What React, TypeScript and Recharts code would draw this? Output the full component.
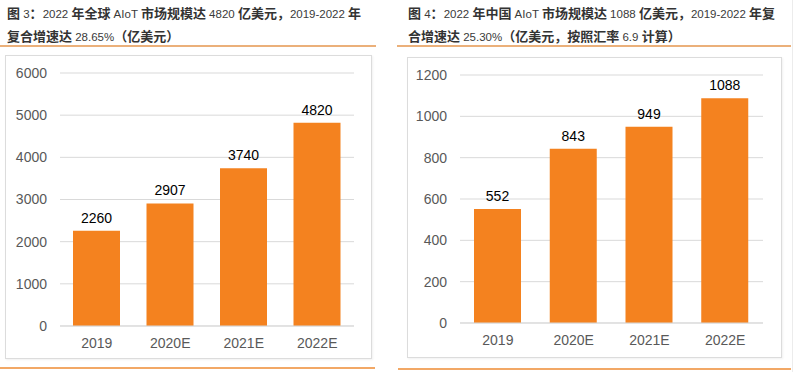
import React from 'react';
import { BarChart, Bar, XAxis, YAxis, CartesianGrid, LabelList } from 'recharts';

const categories = ['2019', '2020E', '2021E', '2022E'];
const globalValues = [2260, 2907, 3740, 4820];
const chinaValues = [552, 843, 949, 1088];
const globalTicks = [0, 1000, 2000, 3000, 4000, 5000, 6000];
const chinaTicks = [0, 200, 400, 600, 800, 1000, 1200];

const globalData = categories.map((c, i) => ({ name: c, value: globalValues[i] }));
const chinaData = categories.map((c, i) => ({ name: c, value: chinaValues[i] }));

const ORANGE = '#F4821F';
const GRID = '#d9d9d9';
const FONT = '"Liberation Sans", Arial, sans-serif';

const titleStyle: React.CSSProperties = {
  position: 'absolute',
  fontFamily: '"Liberation Sans", "Noto Sans CJK SC", sans-serif',
  fontSize: 11.5,
  lineHeight: '21px',
  color: '#3a3a3a',
  whiteSpace: 'nowrap',
};

const B = ({ children }: { children: React.ReactNode }) => (
  <span style={{ fontFamily: '"Noto Sans CJK SC", sans-serif', fontWeight: 700, fontSize: 13, color: '#333' }}>{children}</span>
);

function Panel({
  data, ticks, max, left, top, width, height, yWidth, right, bottom,
}: {
  data: { name: string; value: number }[]; ticks: number[]; max: number;
  left: number; top: number; width: number; height: number; yWidth: number; right: number; bottom: number;
}) {
  return (
    <>
      <div style={{ position: 'absolute', left, top, width, height, boxSizing: 'border-box', border: '1px solid #dcdcdc', boxShadow: '1px 1px 2px rgba(0,0,0,0.06)' }} />
      <div style={{ position: 'absolute', left, top, width, height }}>
        <BarChart width={width} height={height} data={data} margin={{ top: 18, right, bottom, left: 0 }}>
          <CartesianGrid vertical={false} stroke={GRID} />
          <XAxis dataKey="name" height={30} tickSize={0} tickMargin={12} axisLine={{ stroke: GRID }} tickLine={false}
            tick={{ fill: '#595959', fontSize: 14, fontFamily: FONT }} />
          <YAxis domain={[0, max]} ticks={ticks} width={yWidth} tickSize={0} tickMargin={13} axisLine={false} tickLine={false}
            interval={0} tick={{ fill: '#595959', fontSize: 14, fontFamily: FONT }} />
          <Bar dataKey="value" fill={ORANGE} barSize={47} isAnimationActive={false}>
            <LabelList dataKey="value" position="top" offset={8} fill="#000" fontSize={14} fontFamily={FONT} />
          </Bar>
        </BarChart>
      </div>
    </>
  );
}

export default function App() {
  return (
    <div style={{ position: 'absolute', left: 0, top: 0, width: 795, height: 372, background: '#fff', overflow: 'hidden' }}>
      <div style={{ ...titleStyle, left: 7, top: 2 }}>
        <div><B>图</B> 3<B>：</B>2022 <B>年全球</B> AIoT <B>市场规模达</B> 4820 <B>亿美元，</B>2019-2022 <B>年</B></div>
        <div><B>复合增速达</B> 28.65%<B>（亿美元）</B></div>
      </div>
      <div style={{ ...titleStyle, left: 408, top: 2 }}>
        <div><B>图</B> 4<B>：</B>2022 <B>年中国</B> AIoT <B>市场规模达</B> 1088 <B>亿美元，</B>2019-2022 <B>年复</B></div>
        <div><B>合增速达</B> 25.30%<B>（亿美元，按照汇率</B> 6.9 <B>计算）</B></div>
      </div>
      <div style={{ position: 'absolute', left: 0, top: 45, width: 376, height: 2, background: '#EBB07A' }} />
      <div style={{ position: 'absolute', left: 397, top: 45, width: 394, height: 2, background: '#EBB07A' }} />
      <div style={{ position: 'absolute', left: 0, top: 367, width: 375, height: 2, background: '#F2A866' }} />
      <div style={{ position: 'absolute', left: 398, top: 368, width: 393, height: 2, background: '#F2A866' }} />
      <div style={{ position: 'absolute', left: 792, top: 0, width: 1, height: 372, background: '#ececec' }} />
      <Panel data={globalData} ticks={globalTicks} max={6000} left={5} top={55} width={367} height={304} yWidth={55} right={18} bottom={3} />
      <Panel data={chinaData} ticks={chinaTicks} max={1200} left={407} top={57} width={375} height={301} yWidth={53} right={19} bottom={5} />
    </div>
  );
}
